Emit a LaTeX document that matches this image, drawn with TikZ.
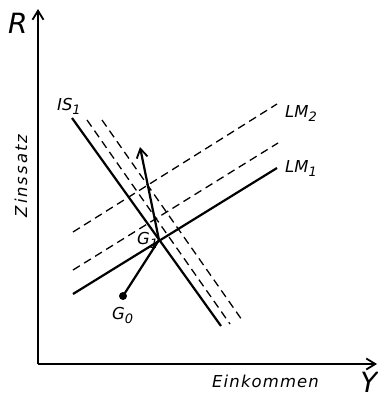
\documentclass[tikz,border=0pt]{standalone}
\usepackage{fontspec}
\setmainfont{DejaVu Sans}
\usetikzlibrary{arrows.meta}
\newcommand{\lsub}[1]{\raisebox{-0.45ex}{\fontsize{13}{13}\selectfont #1}}
\begin{document}
\begin{tikzpicture}[x=1bp,y=-1bp,
  solidline/.style={line width=2.2bp},
  dline/.style={line width=1.3bp, dash pattern=on 8bp off 5bp},
  lab/.style={font=\fontsize{16.5}{16.5}\selectfont\itshape, inner sep=0pt},
  big/.style={font=\fontsize{28}{28}\selectfont\itshape, inner sep=0pt},
  tipped/.style={-{Straight Barb[length=9bp,width=11bp,line width=1.8bp]}}]
\useasboundingbox (0,0) rectangle (378,399);
% axes
\coordinate (O) at (38,364);
\coordinate (Ytop) at (38,9);
\coordinate (Xend) at (377,364);
\draw[solidline, tipped] (O) -- (Ytop);
\draw[solidline, tipped] (O) -- (Xend);
% IS curves
\coordinate (is1a) at (72,118);   \coordinate (is1b) at (221,326);
\coordinate (is2a) at (87,120);   \coordinate (is2b) at (230,324);
\coordinate (is3a) at (102,120);  \coordinate (is3b) at (242,320);
\draw[solidline] (is1a) -- (is1b);
\draw[dline] (is2a) -- (is2b);
\draw[dline] (is3a) -- (is3b);
% LM curves
\coordinate (lm1a) at (73,294);   \coordinate (lm1b) at (277,168);
\coordinate (lmxa) at (73,270);   \coordinate (lmxb) at (278,143);
\coordinate (lm2a) at (73,232);   \coordinate (lm2b) at (277,104);
\draw[solidline] (lm1a) -- (lm1b);
\draw[dline] (lmxa) -- (lmxb);
\draw[dline] (lm2a) -- (lm2b);
% points
\coordinate (G1) at (159,240);
\coordinate (Gtip) at (140,147);
\node[circle, fill=black, inner sep=0pt, minimum size=8bp] (G0) at (123,296) {};
\draw[solidline] (G0.center) -- (G1);
\draw[solidline, tipped] (G1) -- (Gtip);
% labels
\node[big, anchor=base west] (R) at (8,33) {R};
\node[big, anchor=base] (Y) at (369,392) {Y};
\node[lab, anchor=base west] (ein) at (212,387) {\addfontfeature{LetterSpace=7}Einkommen};
\node[lab, rotate=90] (zins) at (21,176) {\addfontfeature{LetterSpace=12}Zinssatz};
\node[lab, anchor=base west] (IS) at (57,110) {IS\lsub{1}};
\node[lab, anchor=base west] (LM2) at (285,117) {LM\lsub{2}};
\node[lab, anchor=base west] (LM1) at (285,172) {LM\lsub{1}};
\node[lab, anchor=base west] (g1) at (137,244) {G\lsub{1}};
\node[lab, anchor=base west] (g0) at (112,319) {G\lsub{0}};
\end{tikzpicture}
\end{document}
